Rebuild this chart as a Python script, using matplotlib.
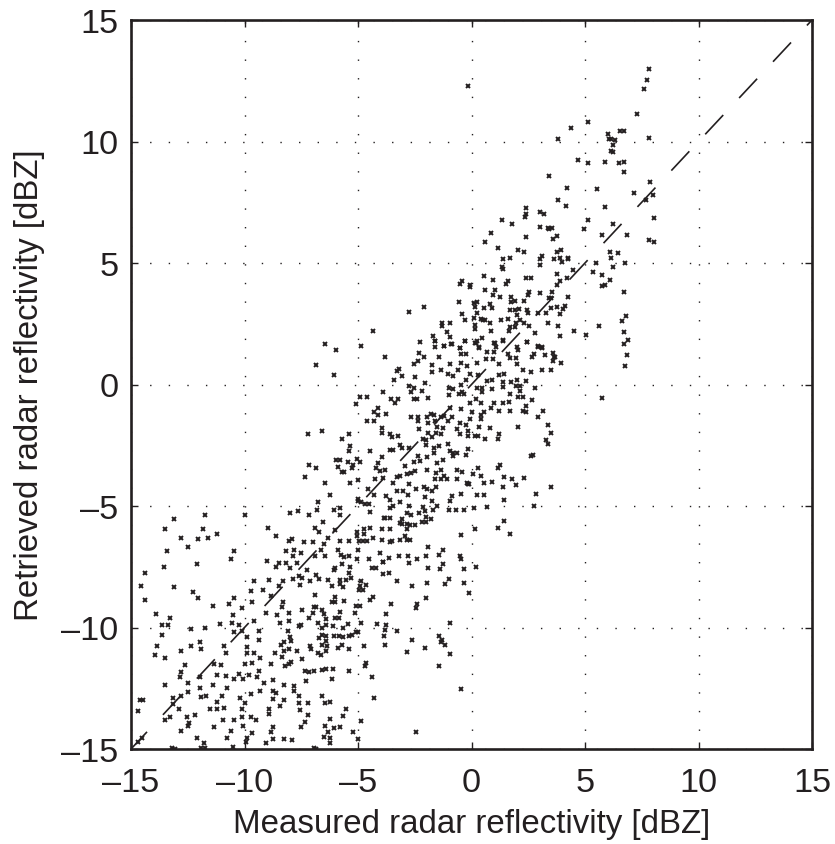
import numpy as np
import matplotlib
matplotlib.use("Agg")
import matplotlib.pyplot as plt

# (measured, retrieved) pairs in dBZ
pairs_low = [
    (-11.73,-5.37),(-10.0,-5.37),(-13.1,-5.55),(-13.5,-5.95),(-11.83,-5.95),(-12.8,-6.3),(-12.05,-6.35),(-11.6,-6.3),
    (-11.2,-6.15),(-12.5,-6.7),(-13.4,-6.85),(-10.45,-6.85),(-10.6,-7.2),(-13.55,-7.5),(-12.1,-7.4),(-14.4,-7.75),
    (-14.55,-8.3),(-13.1,-8.35),(-14.4,-8.85),(-12.25,-8.55),(-12.05,-8.8),(-11.4,-9.1),(-13.9,-9.45),(-13.3,-9.6),
    (-13.65,-9.9),(-13.35,-9.9),(-13.65,-10.3),(-12.35,-10.05),(-11.75,-10.0),(-13.85,-10.75),(-13.95,-11.15),
    (-13.5,-11.25),(-12.8,-10.95),(-12.35,-10.75),(-11.95,-10.6),(-11.9,-10.9),(-12.6,-11.55),(-12.8,-11.85),
    (-12.85,-12.05),(-13.5,-12.35),(-12.5,-12.3),(-12.5,-12.65),(-13.15,-12.9),(-12.8,-12.8),(-12.9,-13.35),
    (-13.15,-13.15),(-14.6,-13.0),(-14.45,-13.0),(-14.7,-13.45),(-13.5,-13.8),(-13.3,-13.7),(-12.55,-13.7),
    (-12.45,-13.95),(-12.2,-13.6),(-12.5,-14.05),(-12.8,-14.25),(-12.1,-14.55),(-13.2,-14.95),(-13.05,-15.0),
    (-11.8,-14.75),(-11.9,-14.95),(-11.75,-14.95),(-14.5,-14.55),(-14.7,-14.7),(-11.95,-12.05),(-11.95,-12.5),
    (-11.9,-12.85),(-11.7,-12.8),(-11.4,-12.35),(-11.0,-12.8),(-11.2,-11.95),(-11.05,-11.55),(-11.35,-11.5),
    (-10.8,-11.05),(-10.9,-10.75),(-11.1,-9.85),(-10.55,-9.8),(-10.5,-9.5),(-10.7,-9.05),(-10.45,-8.8),(-10.1,-9.2),
    (-9.65,-8.95),(-9.7,-8.5),(-9.2,-8.45),(-9.6,-8.1),(-8.9,-8.05),(-8.3,-8.1),(-8.5,-8.3),(-8.85,-8.7),(-9.05,-9.4),
    (-9.6,-9.75),(-10.25,-9.9),(-10.45,-10.2),(-10.1,-10.15),(-9.35,-10.15),(-9.35,-10.5),(-9.9,-10.4),(-9.9,-10.8),
    (-9.6,-11.05),(-9.9,-11.05),(-9.3,-11.25),(-8.65,-11.05),(-8.85,-11.5),(-10.0,-11.5),(-9.65,-11.45),(-9.8,-11.95),
    (-10.25,-11.9),(-10.45,-12.1),(-10.8,-12.0),(-10.05,-12.1),(-9.45,-12.05),(-9.35,-11.8),(-9.15,-12.3),(-9.3,-12.6),
    (-8.75,-12.15),(-8.75,-12.6),(-8.6,-12.7),(-8.25,-12.35),(-8.75,-12.95),(-8.25,-13.0),(-8.45,-13.25),(-8.9,-13.35),
    (-8.9,-13.55),(-9.7,-12.75),(-10.2,-12.9),(-10.0,-13.1),(-10.1,-13.35),(-10.75,-12.5),(-11.2,-13.05),(-11.2,-13.35),
    (-10.9,-13.3),(-11.5,-13.35),(-10.95,-13.8),(-10.45,-13.8),(-10.1,-13.7),(-9.7,-13.7),(-9.5,-13.8),(-11.35,-14.1),
    (-10.6,-14.25),(-10.05,-14.05),(-9.65,-14.35),(-8.75,-14.1),(-8.85,-14.3),(-10.75,-14.55),(-10.5,-14.9),(-9.9,-14.55),
    (-9.95,-14.7),(-9.05,-14.75),(-8.75,-14.6),(-8.25,-14.6),(-7.9,-14.65),(-6.95,-14.95),(-6.85,-15.0),(-6.5,-14.5),
    (-6.25,-14.55),(-6.25,-14.75),(-5.0,-14.6),(-5.2,-14.3),(-6.05,-14.15),(-5.8,-14.1),(-6.45,-14.05),(-6.3,-14.3),
    (-7.5,-14.1),(-7.35,-13.9),(-6.25,-13.75),(-5.65,-13.65),(-5.55,-13.35),(-4.85,-13.85),(-7.2,-13.6),(-7.55,-13.4),
    (-7.6,-13.1),(-7.2,-13.1),(-7.6,-12.8),(-7.8,-12.6),(-7.8,-12.4),(-7.3,-12.2),(-6.6,-12.8),(-6.45,-13.1),(-6.25,-13.05),
    (-4.3,-12.9),(-4.4,-12.05),(-6.15,-12.1),(-5.4,-11.8),(-4.7,-11.6),(-4.65,-11.45),(-6.1,-11.7),(-6.4,-11.7),(-6.6,-11.75),
    (-6.95,-11.8),(-7.15,-11.85),(-7.35,-11.8),(-7.45,-11.3),(-8.05,-11.5),(-7.95,-11.4),(-8.2,-11.6),(-8.35,-11.2),
    (-7.7,-10.95),(-8.05,-10.9),(-8.25,-10.95),(-8.4,-10.7),(-8.25,-10.6),(-8.0,-10.4),(-7.95,-10.55),(-8.1,-10.15),
    (-8.05,-9.75),(-8.45,-9.8),(-8.55,-9.5),(-8.05,-9.4),(-8.35,-9.15),(-8.3,-8.95),(-7.45,-9.3),(-6.9,-8.65),(-7.6,-9.95),
    (-7.5,-9.9),(-6.95,-9.15),(-6.85,-9.15),(-7.0,-9.4),(-7.15,-9.6),(-6.6,-9.3),(-6.5,-9.45),(-6.4,-9.65),(-6.75,-9.8),
    (-6.6,-10.0),(-6.4,-9.9),(-6.1,-9.95),(-5.85,-9.6),(-6.0,-9.6),(-5.45,-9.85),(-5.65,-10.0),(-4.85,-9.8),(-5.15,-9.4),
    (-5.1,-9.1),(-4.9,-9.1),(-5.8,-9.35),(-5.6,-8.9),(-6.15,-8.95),(-6.0,-8.75),(-6.0,-8.95),(-4.35,-8.75),(-4.45,-8.85),
    (-4.9,-8.3),(-4.65,-8.25),(-4.85,-8.1),(-4.95,-8.45),(-4.8,-8.45),(-6.6,-10.3),(-6.4,-10.35),(-6.7,-10.45),(-6.4,-10.55),
    (-6.6,-10.7),(-6.35,-10.75),(-7.1,-10.75),(-7.05,-10.9),(-6.75,-11.05),(-6.65,-11.15),(-6.4,-10.95),(-5.9,-10.85),
    (-5.7,-10.7),(-5.4,-10.9),(-4.75,-10.75),(-6.05,-10.35),(-5.85,-10.35),(-5.65,-10.4),(-5.4,-10.35),(-5.25,-10.3),
    (-5.0,-10.2),(-5.1,-10.2),(-4.15,-9.85),(-3.85,-10.35),(-3.8,-10.7),(-3.9,-7.3),(-3.9,-7.8),(-4.2,-7.55),(-4.4,-7.55),
    (-4.5,-7.2),(-5.05,-7.2),(-4.05,-6.95),(-5.0,-6.8),(-4.95,-6.45),(-4.8,-6.45),(-4.6,-6.45),(-4.35,-6.3),(-3.95,-6.4),
    (-3.85,-5.5),(-3.95,-5.95),(-4.45,-5.9),(-4.75,-5.95),(-4.75,-6.15),(-5.05,-6.05),(-5.05,-6.25),(-4.45,-5.25),(-4.5,-4.9),
    (-4.85,-4.85),(-5.0,-4.8),(-4.7,-4.9),(-6.75,-4.85),(-6.8,-5.15),(-7.65,-5.2),(-8.0,-5.3),(-7.15,-5.35),(-6.05,-5.15),
    (-5.8,-5.1),(-5.8,-5.35),(-6.55,-5.65),(-8.95,-5.9),(-8.6,-6.25),(-8.05,-6.45),(-7.9,-6.35),(-7.4,-6.5),(-7.0,-6.5),
    (-6.9,-5.9),(-6.7,-6.05),(-6.3,-6.3),(-6.5,-6.55),(-6.0,-6.0),(-5.8,-6.45),(-5.4,-6.45),(-5.9,-6.8),(-5.75,-7.0),
    (-5.4,-7.05),(-5.6,-7.1),(-5.7,-7.4),(-5.35,-7.5),(-5.4,-7.75),(-6.0,-7.55),(-6.05,-7.65),(-5.55,-8.05),(-5.8,-8.05),
    (-5.3,-7.95),(-5.65,-8.35),(-5.8,-8.2),(-6.3,-8.05),(-6.15,-8.3),(-6.7,-8.0),(-6.85,-7.85),(-7.1,-8.1),(-7.25,-7.65),
    (-7.55,-8.25),(-7.6,-7.9),(-7.45,-7.95),(-7.85,-8.0),(-6.45,-7.05),(-6.65,-6.8),(-6.9,-7.05),(-7.5,-6.95),(-7.8,-6.8),
    (-7.85,-7.05),(-8.15,-6.85),(-8.15,-7.35),(-8.0,-7.55),(-7.7,-7.35),(-8.5,-7.35),(-8.6,-7.5),(-9.0,-7.25),
]

pairs_mid = [
    (-6.45,1.65),(-4.85,1.6),(-5.95,1.4),(-3.8,1.15),(-6.85,0.8),(-6.05,0.4),(-2.25,1.75),(-1.6,1.8),(-1.6,1.55),(-1.2,1.6),
    (-0.9,1.65),(-0.5,1.5),(-0.3,1.8),(0.2,1.7),(0.35,1.5),(1.0,1.7),(1.4,1.8),(2.45,1.75),(2.95,1.55),(3.1,1.5),(3.6,1.3),
    (3.25,1.2),(3.65,1.15),(3.6,0.95),(2.75,1.25),(2.65,1.15),(2.05,1.4),(1.6,1.25),(1.7,1.1),(1.95,1.1),(2.0,0.85),(1.0,1.35),
    (0.7,1.35),(0.65,1.05),(0.95,1.05),(0.25,0.9),(1.2,0.85),(2.25,0.6),(2.6,0.5),(3.1,0.6),(3.5,0.6),(-2.3,1.3),(-2.1,1.15),
    (-1.45,1.15),(-2.35,0.95),(-2.55,0.85),(-1.75,0.8),(-0.95,0.85),(-0.45,0.9),(-0.2,0.75),(-0.45,1.25),(-0.25,1.25),
    (-1.35,0.6),(-1.75,0.5),(-1.05,0.45),(-0.8,0.35),(-0.6,0.6),(-0.05,0.45),(0.3,0.4),(1.2,0.4),(1.45,0.45),(-3.2,0.65),
    (-3.3,0.55),(-3.05,0.35),(-3.4,0.2),(-2.5,0.3),(-2.05,0.05),(-2.75,-0.05),(-2.55,-0.15),(-2.65,-0.3),(-2.2,-0.25),
    (-3.9,-0.3),(-4.9,-0.5),(-4.6,-0.5),(-5.1,-0.8),(-3.55,-0.6),(-3.25,-0.6),(-3.35,-0.75),(-2.55,-0.6),(-2.4,-0.6),
    (-1.9,-0.55),(-4.1,-0.95),(-4.3,-1.15),(-4.1,-1.25),(-3.75,-1.2),(-4.6,-1.5),(-4.3,-1.5),(-3.95,-1.8),(-3.95,-2.0),
    (-3.6,-2.05),(-3.5,-2.15),(-3.25,-2.1),(-6.6,-1.9),(-7.2,-2.05),(-5.4,-2.05),(-5.7,-2.25),(-5.35,-2.55),(-5.4,-2.75),
    (-4.45,-2.75),(-5.95,-3.1),(-5.8,-3.1),(-5.45,-3.2),(-5.05,-3.05),(-4.9,-3.2),(-3.95,-3.0),(-5.9,-3.4),(-5.2,-3.3),
    (-5.25,-3.45),(-5.7,-3.6),(-5.6,-3.6),(-7.15,-3.3),(-6.85,-3.45),(-7.35,-3.8),(-6.45,-4.05),(-5.35,-4.05),(-5.0,-3.95),
    (-6.25,-4.55),(-4.1,-3.25),(-4.2,-3.45),(-3.8,-3.5),(-4.05,-3.55),(-3.9,-3.85),(-4.25,-3.9),(-4.55,-4.3),(-4.3,-4.55),
    (-5.0,-4.7),(-3.75,-4.6),(-3.6,-4.75),(-3.3,-4.4),(-3.0,-4.4),(-2.8,-4.55),(-3.45,-4.05),(-3.3,-3.8),(-3.15,-3.75),
    (-2.75,-4.1),(-2.85,-3.7),(-2.65,-3.65),(-2.5,-3.55),(-2.95,-3.35),(-2.55,-3.2),(-2.25,-3.15),(-1.95,-3.0),(-2.35,-2.95),
    (-1.95,-3.5),(-1.5,-3.25),(-1.35,-3.5),(-1.25,-3.1),(-1.55,-3.65),(-1.6,-3.9),(-1.35,-3.9),(-1.2,-3.75),(-1.1,-3.9),
    (-2.45,-4.3),(-2.1,-4.2),(-1.95,-4.3),(-1.75,-4.4),(-1.55,-4.2),(-2.05,-4.65),(-1.75,-4.8),(-1.5,-5.0),(-0.95,-4.8),
    (-0.85,-4.6),(-0.45,-4.5),(-0.65,-3.9),(-0.65,-3.5),(-0.4,-3.6),(-0.2,-4.05),(-0.1,-4.1),(-0.15,-4.1),(0.05,-3.7),
    (0.3,-3.45),(0.4,-3.75),(0.55,-4.05),(0.9,-4.0),(1.25,-3.3),(1.15,-3.45),(1.45,-3.8),(1.8,-3.9),(1.95,-4.15),(2.3,-3.85),
    (1.4,-4.2),(3.5,-4.2),(2.85,-4.5),(1.45,-4.75),(0.25,-4.55),(0.55,-4.55),(2.75,-5.0),(0.7,-5.05),(0.1,-5.1),(-0.35,-5.15),
    (-0.7,-5.15),(-1.0,-5.15),(1.45,-5.6),(1.15,-5.9),(1.7,-6.15),(0.15,-5.95),(-0.45,-6.2),(-1.9,-6.7),(-1.25,-6.8),
    (-1.45,-7.0),(-0.5,-7.05),(-0.45,-7.2),(-1.25,-7.4),(-1.4,-7.6),(0.2,-7.5),(-0.35,-7.6),(-1.9,-7.55),(-1.0,-8.0),
    (-1.15,-8.2),(-0.35,-8.15),(-1.95,-8.15),(-0.1,-8.6),(-2.0,-8.8),(-3.2,-7.05),(-2.8,-7.05),(-2.4,-7.2),(-2.0,-7.05),
    (-2.75,-7.35),(-3.65,-7.15),(-3.3,-8.1),(-2.6,-8.3),(-3.65,-7.75),(-3.9,-7.3),(-2.95,-6.25),(-2.85,-6.4),(-2.7,-6.4),
    (-3.15,-6.4),(-3.5,-6.45),(-3.6,-6.5),(-3.6,-5.1),(-3.45,-5.0),(-3.15,-4.85),(-2.75,-5.0),(-3.6,-5.5),(-3.8,-5.5),
    (-3.05,-5.55),(-3.15,-5.7),(-2.85,-5.3),(-2.65,-5.35),(-2.3,-5.3),(-2.05,-5.2),(-2.15,-5.05),(-2.0,-5.45),(-1.8,-5.55),
    (-2.0,-5.65),(-2.2,-5.65),(-2.5,-5.8),(-2.7,-5.8),(-2.85,-5.75),(-2.85,-5.95),(-3.05,-5.75),(-3.6,-5.95),(-1.7,-5.15),
    (-1.8,-1.2),(-1.65,-1.25),(-1.95,-1.35),(-2.35,-1.35),(-2.65,-1.35),(-2.35,-1.5),(-1.9,-1.6),(-1.6,-1.5),(-1.35,-1.35),
    (-1.2,-1.3),(-0.95,-0.95),(-0.85,-1.35),(-1.05,-1.5),(-1.5,-1.75),(-1.25,-1.8),(-2.3,-1.85),(-1.9,-2.0),(-1.35,-2.05),
    (-1.55,-2.0),(-1.75,-2.15),(-2.15,-2.25),(-2.0,-2.3),(-2.0,-2.5),(-1.45,-2.55),(-1.05,-2.45),(-1.65,-2.6),(-1.65,-2.8),
    (-2.75,-2.6),(-3.15,-2.5),(-3.05,-2.6),(-3.6,-2.7),(-3.45,-2.7),(-0.95,-2.75),(-0.8,-2.8),(-0.65,-2.8),(-0.8,-2.95),
    (-0.25,-2.9),(-0.15,-2.65),(-0.65,-1.85),(-0.5,-2.05),(-0.15,-1.9),(-0.15,-2.1),(0.15,-2.1),(0.3,-2.1),(0.6,-2.25),
    (-0.5,-1.6),(-0.25,-1.65),(-0.05,-1.4),(0.4,-1.4),(0.0,-1.15),(-0.45,-1.0),(0.4,-1.25),(0.55,-1.15),(0.85,-0.95),
    (1.0,-0.75),(1.2,-1.1),(1.7,-1.1),(1.4,-0.75),(1.65,-0.7),(1.7,-0.4),(2.05,-0.5),(2.25,-0.5),(2.65,-0.65),(2.4,-0.9),
    (2.25,-1.1),(2.4,-1.15),(2.95,-1.35),(3.15,-1.1),(3.35,-1.65),(3.5,-2.0),(3.3,-2.3),(3.35,-2.45),(2.05,-1.75),(0.8,-1.8),
    (0.35,-1.75),(1.2,-2.05),(1.15,-2.25),(2.6,-2.95),(2.7,-2.9),(-1.0,-0.15),(-0.8,-0.2),(-1.0,-0.45),(-0.55,-0.4),
    (-0.4,-0.3),(-0.25,0.2),(-0.45,0.0),(-0.35,-0.4),(-0.05,-0.75),(0.2,-0.6),(0.4,-0.75),(0.25,-0.15),(0.45,-0.15),
    (0.45,-0.3),(0.7,0.15),(0.9,0.2),(1.4,0.1),(1.4,-0.1),(1.75,0.1),(2.0,0.2),(1.95,-0.05),(2.15,-0.05),(2.4,0.15),
    (2.15,-0.25),(2.8,-0.15),(0.9,-0.2),
]

pairs_high = [
    (-0.15,12.3),(7.8,13.0),(7.75,12.55),(7.6,12.15),(7.3,11.15),(5.15,10.8),(4.4,10.55),(6.0,10.3),(6.55,10.45),(6.7,10.45),
    (6.05,10.1),(6.15,10.1),(6.3,10.05),(6.25,9.85),(6.15,9.6),(6.25,9.55),(7.8,10.15),(3.8,10.1),(4.7,9.25),(5.15,9.1),
    (5.9,9.15),(6.5,9.1),(6.7,9.15),(6.7,8.75),(3.4,8.6),(4.2,8.1),(5.55,8.05),(7.85,8.35),(7.15,7.9),(8.0,7.8),(7.7,7.6),
    (3.8,7.6),(4.15,7.35),(5.9,7.3),(2.4,7.25),(2.4,7.0),(2.35,6.9),(3.0,7.1),(3.2,7.0),(1.35,6.75),(1.8,6.6),(8.05,6.85),
    (5.15,6.75),(6.25,6.6),(3.0,6.5),(3.35,6.45),(3.55,6.45),(3.4,6.4),(4.95,6.4),(0.85,6.25),(2.4,6.05),(3.75,6.1),(3.6,6.0),
    (5.75,6.15),(6.85,6.15),(0.6,5.85),(7.8,5.95),(8.05,5.85),(1.15,5.6),(2.05,5.55),(2.3,5.45),(3.75,5.45),(3.95,5.55),
    (6.1,5.45),(6.45,5.4),(3.1,5.3),(3.0,5.15),(1.7,5.2),(1.4,5.15),(3.65,5.15),(3.9,5.2),(4.0,5.05),(4.25,5.2),(4.25,5.15),
    (6.15,5.2),(5.5,5.0),(6.75,5.0),(3.0,4.9),(1.35,4.85),(1.4,4.75),(6.25,4.85),(5.35,4.65),(4.45,4.7),(3.75,4.55),(5.75,4.5),
    (4.2,4.4),(0.55,4.45),(0.95,4.3),(2.4,4.4),(2.6,4.4),(6.1,4.3),(-0.4,4.25),(-0.5,4.15),(-0.05,4.1),(-0.05,4.0),(1.6,4.25),
    (1.5,4.15),(3.9,4.25),(3.75,4.1),(5.9,4.1),(5.75,4.05),(0.6,3.9),(1.05,3.9),(0.95,3.7),(1.25,3.6),(2.55,3.8),(2.5,3.7),
    (3.0,3.75),(3.55,3.8),(6.7,3.8),(3.4,3.55),(3.5,3.55),(4.25,3.6),(-0.55,3.4),(1.75,3.6),(1.75,3.4),(1.9,3.45),(2.3,3.45),
    (0.1,3.35),(0.25,3.4),(0.15,3.2),(0.8,3.3),(0.55,3.15),(0.9,3.15),(1.7,3.05),(1.9,3.05),(2.1,3.1),(2.45,3.05),(2.5,2.95),
    (3.5,3.15),(3.75,3.2),(4.1,3.25),(4.05,3.1),(2.95,2.95),(3.3,2.95),(3.9,2.9),(-0.4,2.9),(0.25,2.95),(0.1,2.75),(2.0,2.85),
    (-0.3,2.65),(0.4,2.7),(0.5,2.65),(0.6,2.65),(0.8,2.55),(1.3,2.65),(1.6,2.7),(2.15,2.65),(2.3,2.55),(1.95,2.55),(0.15,2.45),
    (-1.3,2.55),(-1.3,2.4),(-0.95,2.55),(6.8,2.8),(6.65,2.6),(3.35,2.55),(3.8,2.4),(5.6,2.4),(2.55,2.4),(1.7,2.35),(1.9,2.35),
    (1.65,2.2),(0.85,2.2),(0.15,2.3),(4.5,2.2),(2.8,2.1),(6.7,2.15),(5.05,2.05),(3.9,2.0),(6.9,1.85),(6.7,1.65),(-1.1,2.15),
    (-0.95,1.95),(0.45,1.9),(-0.3,1.8),(0.25,1.8),(1.4,1.85),(2.45,1.75),(1.05,1.7),(0.15,1.7),(-0.85,1.65),(-1.2,1.6),
    (2.95,1.6),(3.1,1.55),(1.1,1.55),(0.35,1.55),(2.0,1.55),(-0.5,1.5),
]

pairs_extra = [
    (-3.55,-9.05),(-2.4,-9.05),(-2.45,-9.2),(-3.75,-9.45),(-3.75,-9.9),(-3.8,-10.1),(-3.3,-10.15),(-2.6,-10.5),(-2.85,-11.0),
    (-2.05,-10.85),(-0.95,-9.8),(-1.45,-10.35),(-1.3,-10.5),(-1.35,-10.6),(-1.15,-10.7),(-0.95,-11.1),(-1.45,-11.6),
    (-0.45,-12.55),(-2.45,-14.3),(6.85,1.2),(6.75,0.75),(5.75,-0.55),(3.7,1.15),(3.95,0.9),(-2.75,3.0),(-2.1,3.2),(-4.35,2.2),
    (-1.7,2.0),(-1.6,1.8),
]

measured_ticks = [-15, -10, -5, 0, 5, 10, 15]
tick_labels = ["\u201315", "\u201310", "\u20135", "0", "5", "10", "15"]
line_ends = [-15, 15]

ink = "#231f20"
plt.rcParams["font.family"] = ["Liberation Sans", "DejaVu Sans"]

fig = plt.figure(figsize=(8.35, 8.45), dpi=100)
ax = fig.add_axes([131 / 835, (845 - 750) / 845, (812 - 131) / 835, (750 - 21) / 845])

pts = np.array(pairs_low + pairs_mid + pairs_high + pairs_extra)
ax.plot(line_ends, line_ends, color=ink, lw=1.2, linestyle=(2.1 / 1.2, (19 / 1.2, 16.75 / 1.2)), zorder=2)
ax.plot(pts[:, 0], pts[:, 1], linestyle="none", marker="x", ms=2.9, mew=1.4, color=ink, zorder=3)

ax.set_xlim(-15, 15)
ax.set_ylim(-15, 15)
ax.set_xticks(measured_ticks)
ax.set_yticks(measured_ticks)
ax.set_xticklabels(tick_labels)
ax.set_yticklabels(tick_labels)

ax.grid(True, color=ink, lw=1.0, linestyle=(0, (1, 12.4)))
ax.set_axisbelow(True)
ax.tick_params(direction="in", length=5, width=1.0, top=True, right=True,
               labelsize=24.7, color=ink, labelcolor=ink)
ax.tick_params(axis="x", pad=13)
ax.tick_params(axis="y", pad=9)
for s in ax.spines.values():
    s.set_linewidth(1.9)
    s.set_color(ink)

ax.set_xlabel("Measured radar reflectivity [dBZ]", fontsize=23.8, color=ink, labelpad=7)
ax.set_ylabel("Retrieved radar reflectivity [dBZ]", fontsize=23.8, color=ink, labelpad=12)

fig.savefig("out.png", dpi=100)
